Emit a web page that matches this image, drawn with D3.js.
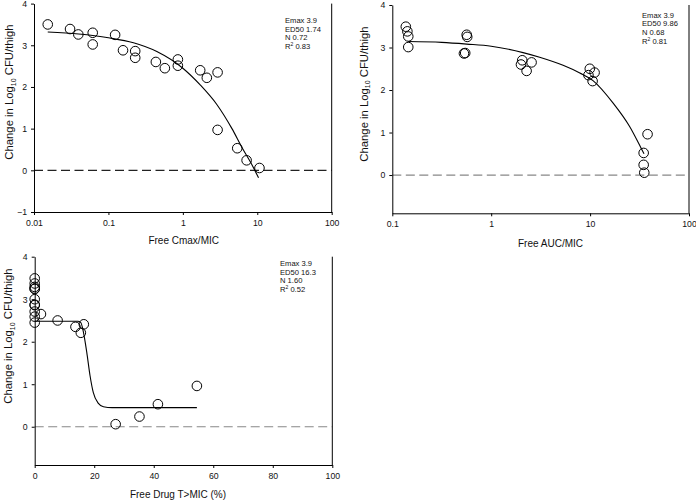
<!DOCTYPE html>
<html><head><meta charset="utf-8">
<script src="https://cdn.jsdelivr.net/npm/d3@7"></script>
<style>body{margin:0;background:#fff} svg{display:block}</style>
</head><body><svg id="c" width="696" height="500"></svg>
<script>
// ---------- data ----------
const cmaxX = [0.0153,0.0305,0.0394,0.0615,0.0615,0.123,0.157,0.229,0.229,0.434,0.573,0.857,0.857,1.71,2.10,2.93,2.93,5.38,7.19,10.7];
const cmaxY = [3.50,3.39,3.26,3.30,3.02,3.25,2.88,2.86,2.70,2.60,2.45,2.66,2.51,2.40,2.22,2.35,0.97,0.53,0.24,0.056];
const cmaxCurveX = [0.0153,0.0398,0.1,0.217,0.447,1,1.71,2.86,4.57,6.31,8.51,10.4];
const cmaxCurveY = [3.32,3.27,3.18,3.06,2.85,2.45,2.05,1.58,1.0,0.53,0.13,-0.18];

const aucX = [0.137,0.142,0.145,0.145,0.565,0.572,0.530,0.546,2.06,2.0,2.28,2.56,9.93,9.62,10.6,11.1,34.8,34.8,35.3,38.1];
const aucY = [3.49,3.38,3.26,3.01,3.30,3.25,2.86,2.87,2.70,2.60,2.45,2.65,2.50,2.35,2.21,2.41,0.52,0.24,0.055,0.96];
const aucCurveX = [0.145,0.316,0.565,1,2.1,3.09,5.33,7.87,10.7,17.1,25.1,33.0,35.1];
const aucCurveY = [3.14,3.12,3.08,3.03,2.88,2.77,2.58,2.40,2.22,1.69,1.14,0.62,0.50];

const tmicX = [0,0,0,0,0,0,0,0,0,0,0,2.1,7.7,13.7,15.5,16.5,27.2,35.2,41.4,54.5];
const tmicY = [3.49,3.37,3.25,3.00,3.29,3.24,2.86,2.87,2.59,2.71,2.45,2.65,2.50,2.35,2.21,2.41,0.06,0.24,0.53,0.96];
const tmicCurveX = [0,14.5,15.5,16.3,17.5,18.6,19.7,21.4,23.1,26,54.5];
const tmicCurveY = [2.48,2.48,2.45,2.25,1.75,1.2,0.8,0.55,0.47,0.45,0.45];

const cmaxTicks = [0.01,0.1,1,10,100];
const cmaxTickLabels = ["0.01","0.1","1","10","100"];
const aucTicks = [0.1,1,10,100];
const aucTickLabels = ["0.1","1","10","100"];
const tmicTicks = [0,20,40,60,80,100];
const tmicTickLabels = ["0","20","40","60","80","100"];
const yTicksA = [-1,0,1,2,3,4];
const yTicksB = [0,1,2,3,4];

const xTitles = ["Free Cmax/MIC","Free AUC/MIC","Free Drug T>MIC (%)"];
const statEmax = ["3.9","3.9","3.9"];
const statED50 = ["1.74","9.86","16.3"];
const statN = ["0.72","0.68","1.60"];
const statR2 = ["0.83","0.81","0.52"];

// ---------- layout ----------
const FONT = '"Liberation Sans", Arial, Helvetica, sans-serif';
const panels = [
  {px: cmaxX, py: cmaxY, cx: cmaxCurveX, cy: cmaxCurveY, log: true, xDom: [0.01,100], ticks: cmaxTicks, tickLabels: cmaxTickLabels,
   yDom: [-1,4], yTicks: yTicksA, x0: 34, x1: 331.7, yTop: 3.6, yBot: 212, zeroColor: "#222",
   ann: [285, 23], xt: [183.7, 244.3], yt: [9.5, 92]},
  {px: aucX, py: aucY, cx: aucCurveX, cy: aucCurveY, log: true, xDom: [0.1,100], ticks: aucTicks, tickLabels: aucTickLabels,
   yDom: [-0.9,4], yTicks: yTicksB, x0: 392.3, x1: 689, yTop: 5, yBot: 213.3, zeroColor: "#888",
   ann: [642, 17.5], xt: [550.5, 247], yt: [364, 94]},
  {px: tmicX, py: tmicY, cx: tmicCurveX, cy: tmicCurveY, log: false, xDom: [0,100], ticks: tmicTicks, tickLabels: tmicTickLabels,
   yDom: [-0.9,4], yTicks: yTicksB, x0: 34.7, x1: 332.3, yTop: 256.7, yBot: 465, zeroColor: "#888",
   ann: [280, 266], xt: [178, 498], yt: [8.5, 336]}
];

const svg = d3.select("#c");

panels.forEach((p, i) => {
  const x = (p.log ? d3.scaleLog() : d3.scaleLinear()).domain(p.xDom).range([p.x0, p.x1]);
  const y = d3.scaleLinear().domain(p.yDom).range([p.yBot, p.yTop]);
  const g = svg.append("g");

  // zero dashed line
  g.append("line").attr("x1", p.x0).attr("x2", p.x1).attr("y1", y(0)).attr("y2", y(0))
    .attr("stroke", p.zeroColor).attr("stroke-width", 1.2).attr("stroke-dasharray", "9,4.5");

  // axes
  const ax = g.append("g").attr("transform", `translate(0,${p.yBot})`)
    .call(d3.axisBottom(x).tickValues(p.ticks).tickFormat((d, k) => p.tickLabels[k]).tickSize(3).tickSizeOuter(0).tickPadding(4.5));
  const ay = g.append("g").attr("transform", `translate(${p.x0},0)`)
    .call(d3.axisLeft(y).tickValues(p.yTicks).tickFormat(d3.format("d")).tickSize(3).tickSizeOuter(0).tickPadding(4));
  [ax, ay].forEach(a => {
    a.attr("font-family", FONT).attr("font-size", 8.7);
    a.selectAll("path,line").attr("stroke", "#000").attr("stroke-width", 1);
    a.selectAll("text").attr("fill", "#111");
  });
  // right frame line
  g.append("line").attr("x1", p.x1).attr("x2", p.x1).attr("y1", p.yTop).attr("y2", p.yBot)
    .attr("stroke", "#000").attr("stroke-width", 1);

  // fitted curve
  const cdat = p.cx.map((v, k) => [v, p.cy[k]]);
  g.append("path").datum(cdat)
    .attr("d", d3.line().x(d => x(d[0])).y(d => y(d[1])).curve(d3.curveMonotoneX))
    .attr("fill", "none").attr("stroke", "#000").attr("stroke-width", 1.1);

  // points
  const pdat = p.px.map((v, k) => [v, p.py[k]]);
  g.selectAll("circle.pt").data(pdat).enter().append("circle").attr("class", "pt")
    .attr("cx", d => x(d[0])).attr("cy", d => y(d[1])).attr("r", 4.8)
    .attr("fill", "none").attr("stroke", "#000").attr("stroke-width", 1);

  // annotations (one text per line)
  const lh = 8.7;
  const annLine = (k) => g.append("text").attr("font-family", FONT).attr("font-size", 7.6).attr("fill", "#111")
    .attr("x", p.ann[0]).attr("y", p.ann[1] + k * lh);
  annLine(0).text("Emax " + statEmax[i]);
  annLine(1).text("ED50 " + statED50[i]);
  annLine(2).text("N " + statN[i]);
  const r = annLine(3);
  r.append("tspan").text("R");
  r.append("tspan").attr("font-size", 5).attr("dy", -3).text("2");
  r.append("tspan").attr("dy", 3).text(" " + statR2[i]);

  // x title
  g.append("text").attr("font-family", FONT).attr("font-size", 10).attr("fill", "#111")
    .attr("text-anchor", "middle").attr("x", p.xt[0]).attr("y", p.xt[1]).text(xTitles[i]);

  // y title
  const yt = g.append("text").attr("font-family", FONT).attr("font-size", 11.3).attr("fill", "#111")
    .attr("text-anchor", "middle").attr("transform", `translate(${p.yt[0]},${p.yt[1]}) rotate(-90)`).attr("dy", "0.35em");
  yt.append("tspan").text("Change in Log");
  yt.append("tspan").attr("font-size", 7).attr("dy", 2.5).text("10");
  yt.append("tspan").attr("dy", -2.5).text(" CFU/thigh");
});
</script></body></html>
